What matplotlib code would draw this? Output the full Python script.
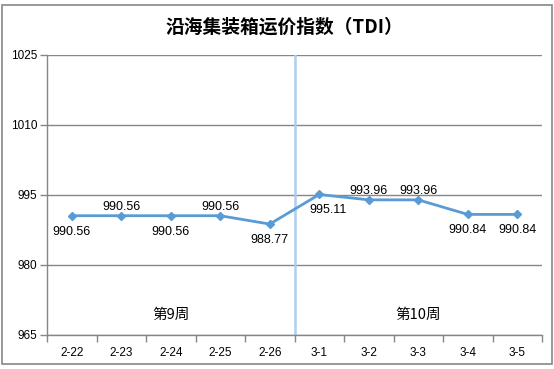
import numpy as np
import matplotlib.pyplot as plt
from matplotlib.patches import Rectangle

plt.rcParams["font.family"] = ["Liberation Sans", "Noto Sans CJK SC", "DejaVu Sans"]

dates = ["2-22", "2-23", "2-24", "2-25", "2-26", "3-1", "3-2", "3-3", "3-4", "3-5"]
tdi = [990.56, 990.56, 990.56, 990.56, 988.77, 995.11, 993.96, 993.96, 990.84, 990.84]
label_above = [False, True, False, True, False, False, True, True, False, False]
weeks = ["第9周", "第10周"]
week_centers = [2, 7]
y_ticks = [965, 980, 995, 1010, 1025]

line_color = "#5B9BD5"
grid_color = "#868686"

fig = plt.figure(figsize=(5.54, 3.69), dpi=100)
W, H = 554, 369

# outer chart border
fig.patches.append(Rectangle((2 / W, 5 / H), 550 / W, 359 / H, transform=fig.transFigure,
                             fill=False, edgecolor=grid_color, linewidth=1.2))

ax = fig.add_axes([47 / W, 34 / H, 495 / W, 280 / H])

x = np.arange(len(dates))
ax.plot(x, tdi, color=line_color, linewidth=2, marker="D", markersize=4.5, zorder=3)

for i, v in enumerate(tdi):
    dx = 6 if i == 5 else 0
    dy = 6.5 if label_above[i] else -11.5
    ax.annotate(f"{v:.2f}", (i, v), xytext=(dx, dy), textcoords="offset points",
                ha="center", va="center", fontsize=9, color="black")

# week divider and labels
ax.axvline(4.5, color="#AFCDEE", linewidth=1.8, zorder=2)
for name, c in zip(weeks, week_centers):
    ax.text(c, 969.3, name, ha="center", va="center", fontsize=10.5,
            family=["Noto Sans CJK SC", "DejaVu Sans"])

ax.set_xlim(-0.5, len(dates) - 0.5)
ax.set_ylim(965, 1025)
ax.set_yticks(y_ticks)
ax.yaxis.grid(True, color=grid_color, linewidth=1)
ax.set_axisbelow(True)

ax.set_xticks(np.arange(-0.5, len(dates), 1))
ax.set_xticklabels([])
ax.set_xticks(x, minor=True)
ax.set_xticklabels(dates, minor=True)
ax.tick_params(axis="x", which="major", length=5, color=grid_color, width=1)
ax.tick_params(axis="x", which="minor", length=0, pad=9, labelsize=8.5)
ax.tick_params(axis="y", length=5, color=grid_color, width=1, labelsize=8.5, pad=2)

for s in ["top", "right"]:
    ax.spines[s].set_visible(False)
for s in ["left", "bottom"]:
    ax.spines[s].set_color(grid_color)
    ax.spines[s].set_linewidth(1)

fig.text(284 / W, 1 - 27 / H, "沿海集装箱运价指数（TDI）", ha="center", va="center",
         fontsize=13.5, fontweight="bold", family=["Noto Sans CJK SC", "DejaVu Sans"])

fig.savefig("out.png", dpi=100)
